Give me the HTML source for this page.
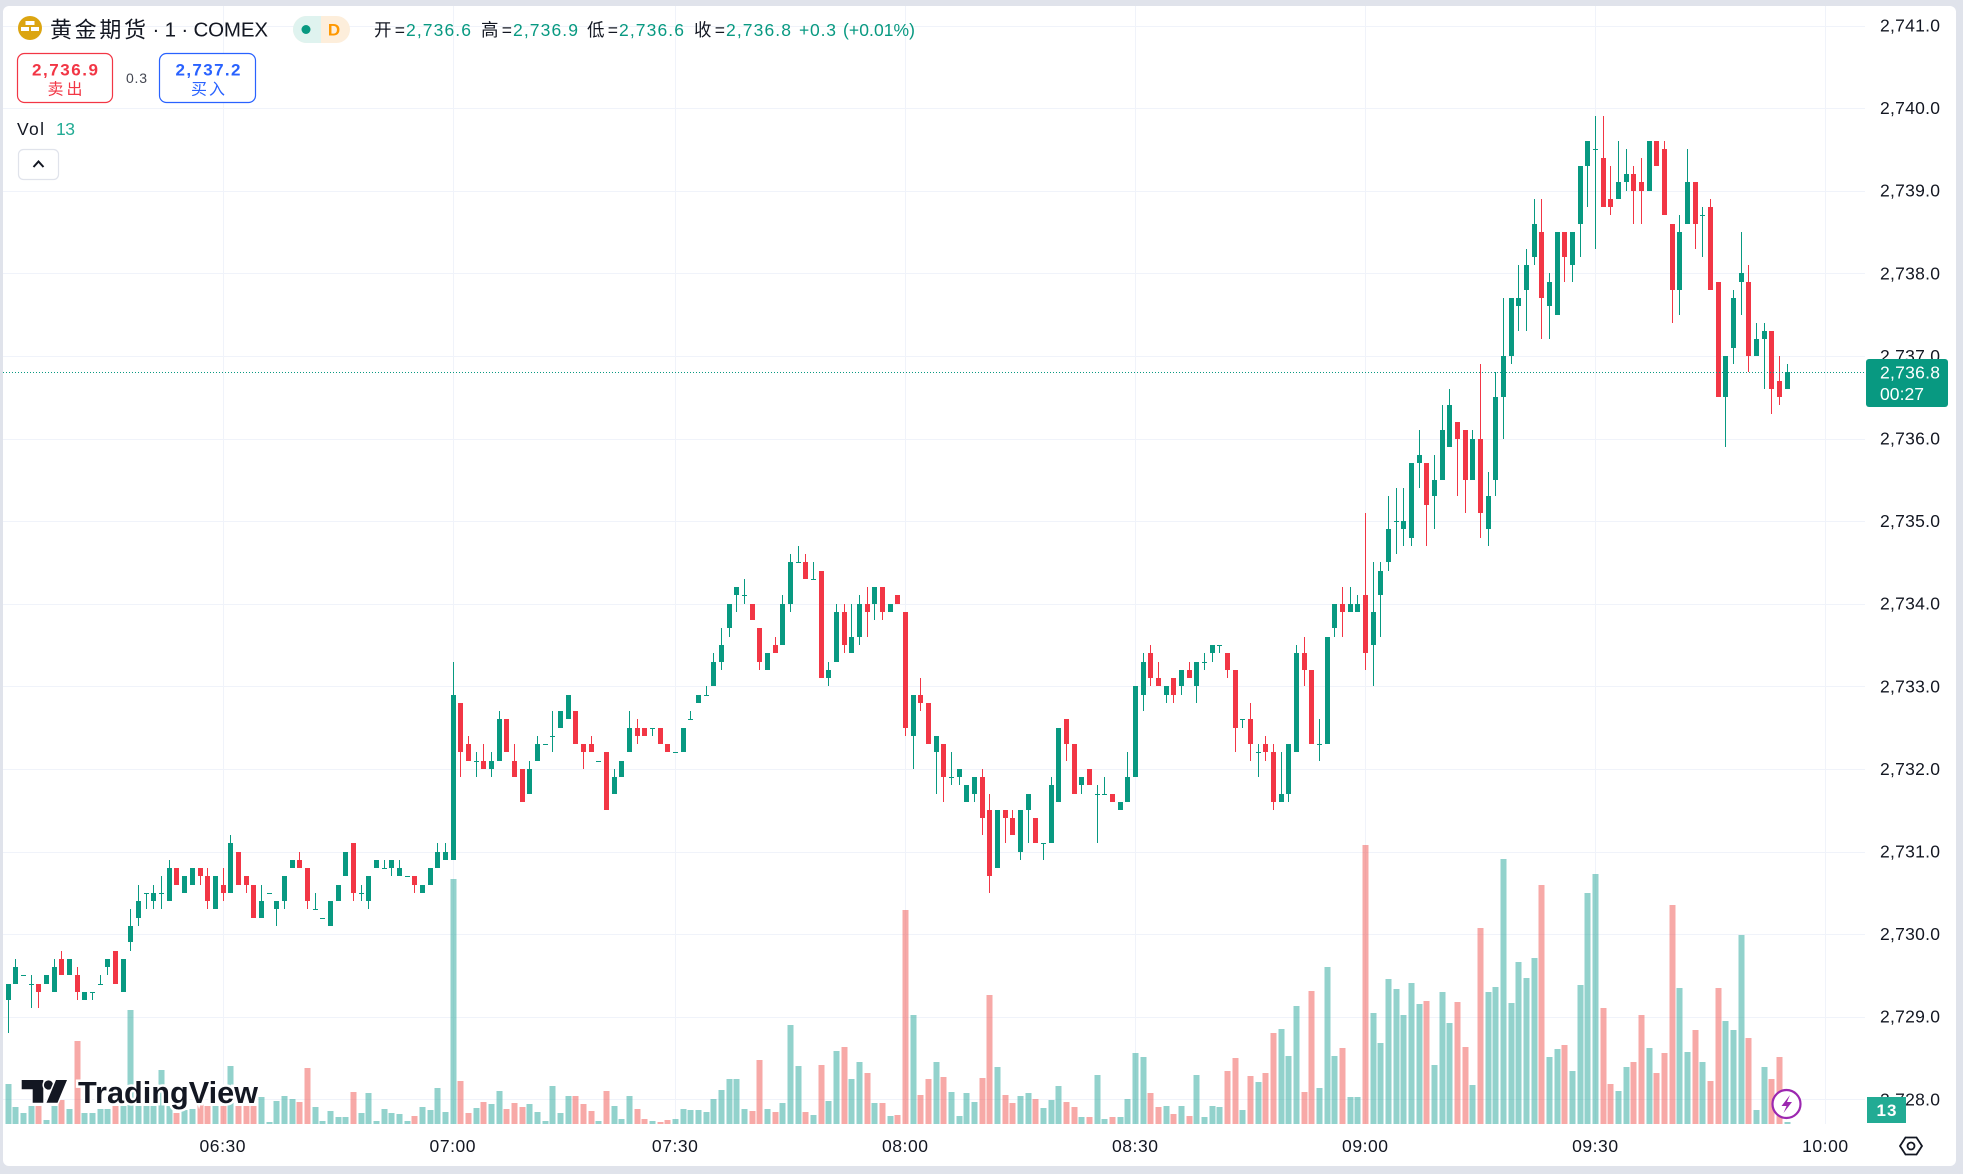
<!DOCTYPE html>
<html><head><meta charset="utf-8"><title>黄金期货 COMEX chart</title>
<style>
html,body{margin:0;padding:0;width:1963px;height:1174px;overflow:hidden;background:#e0e3eb;}
svg{position:absolute;left:0;top:0;}
text{font-family:"Liberation Sans","Noto Sans CJK SC",sans-serif;}
</style></head>
<body>
<svg id="s" width="1963" height="1174" viewBox="0 0 1963 1174" xmlns="http://www.w3.org/2000/svg">
<rect x="0" y="0" width="1963" height="1174" fill="#e0e3eb"/>
<rect x="3" y="6" width="1953" height="1160" rx="6" fill="#ffffff"/>
<g id="grid" stroke="#f0f3fa" stroke-width="1" shape-rendering="crispEdges"></g>
<g id="vol"></g>
<g id="cnd" shape-rendering="crispEdges"></g>
<line x1="3" y1="372.5" x2="1866" y2="372.5" stroke="#089981" stroke-width="1" stroke-dasharray="1 2"/>

<!-- header -->
<circle cx="30" cy="28" r="12" fill="#dca511"/>
<rect x="25.5" y="21" width="9" height="4" fill="#fff"/>
<rect x="21" y="27" width="8" height="4" fill="#fff"/>
<rect x="31" y="27" width="8" height="4" fill="#fff"/>
<text x="50" y="30" font-size="22" dominant-baseline="central" fill="#131722" textLength="96" lengthAdjust="spacing">黄金期货</text>
<text x="147" y="30" font-size="20.5" dominant-baseline="central" fill="#131722" textLength="121" lengthAdjust="spacing">&#160;·&#160;1&#160;·&#160;COMEX</text>
<rect x="293" y="16" width="57" height="27" rx="13.5" fill="#fdeedb"/>
<rect x="293" y="16" width="28" height="27" rx="13.5" fill="#dff3ef"/>
<rect x="308" y="16" width="13" height="27" fill="#dff3ef"/>
<circle cx="306" cy="29.5" r="4.5" fill="#089981"/>
<text x="334" y="30" font-size="17" font-weight="bold" text-anchor="middle" dominant-baseline="central" fill="#ff9800">D</text>

<text y="30" font-size="17.5" dominant-baseline="central">
<tspan x="374" fill="#131722" textLength="31" lengthAdjust="spacing">开=</tspan><tspan x="406" fill="#089981" textLength="65" lengthAdjust="spacing">2,736.6</tspan>
<tspan x="481" fill="#131722" textLength="31" lengthAdjust="spacing">高=</tspan><tspan x="513" fill="#089981" textLength="65" lengthAdjust="spacing">2,736.9</tspan>
<tspan x="587" fill="#131722" textLength="31" lengthAdjust="spacing">低=</tspan><tspan x="619" fill="#089981" textLength="65" lengthAdjust="spacing">2,736.6</tspan>
<tspan x="694" fill="#131722" textLength="31" lengthAdjust="spacing">收=</tspan><tspan x="726" fill="#089981" textLength="65" lengthAdjust="spacing">2,736.8</tspan>
<tspan x="799" fill="#089981" textLength="37" lengthAdjust="spacing">+0.3</tspan><tspan x="843" fill="#089981" textLength="72" lengthAdjust="spacing">(+0.01%)</tspan>
</text>

<rect x="17.5" y="53.5" width="95" height="49" rx="7" fill="#fff" stroke="#f23645" stroke-width="1.2"/>
<text x="65" y="70" font-size="17" font-weight="bold" text-anchor="middle" dominant-baseline="central" fill="#f23645" textLength="66" lengthAdjust="spacing">2,736.9</text>
<text x="65" y="90" font-size="16" text-anchor="middle" dominant-baseline="central" fill="#f23645" textLength="35" lengthAdjust="spacing">卖出</text>
<text x="136.5" y="78" font-size="14" text-anchor="middle" dominant-baseline="central" fill="#434651" textLength="21" lengthAdjust="spacing">0.3</text>
<rect x="159.5" y="53.5" width="96" height="49" rx="7" fill="#fff" stroke="#2962ff" stroke-width="1.2"/>
<text x="208" y="70" font-size="17" font-weight="bold" text-anchor="middle" dominant-baseline="central" fill="#2962ff" textLength="65" lengthAdjust="spacing">2,737.2</text>
<text x="208" y="90" font-size="16" text-anchor="middle" dominant-baseline="central" fill="#2962ff" textLength="34" lengthAdjust="spacing">买入</text>

<text x="17" y="129" font-size="17.5" dominant-baseline="central" fill="#131722" textLength="27" lengthAdjust="spacing">Vol</text>
<text x="56" y="129" font-size="17.5" dominant-baseline="central" fill="#22ab94" textLength="19" lengthAdjust="spacing">13</text>
<rect x="18.5" y="149.5" width="40" height="30" rx="5" fill="#fff" stroke="#e0e3eb" stroke-width="1.2"/>
<polyline points="33.5,167 38.5,161.5 43.5,167" fill="none" stroke="#131722" stroke-width="2"/>

<!-- TradingView logo -->
<g>
<path d="M21.7,1080 H43.3 V1102.7 H32.7 V1089.3 H21.7 Z" fill="#131722" stroke="#fff" stroke-width="3" paint-order="stroke"/>
<circle cx="48.5" cy="1085" r="4.6" fill="#131722" stroke="#fff" stroke-width="3" paint-order="stroke"/>
<path d="M56,1080 L67,1080 L57.5,1102.7 L46.5,1102.7 Z" fill="#131722" stroke="#fff" stroke-width="3" paint-order="stroke"/>
<text x="78" y="1103" font-size="31" font-weight="bold" fill="#131722" stroke="#fff" stroke-width="5" paint-order="stroke" textLength="180" lengthAdjust="spacingAndGlyphs">TradingView</text>
</g>

<!-- lightning icon -->
<circle cx="1786.5" cy="1104" r="14" fill="#fff" stroke="#9c27b0" stroke-width="2.2"/>
<path d="M1790,1095 L1781.5,1106 L1786.5,1106 L1783.5,1113 L1792,1102 L1787,1102 Z" fill="#9c27b0"/>

<g id="plabels" font-size="17.5" fill="#131722"></g>

<!-- current price label -->
<rect x="1866" y="359" width="82" height="48" rx="3" fill="#089981"/>
<text x="1880" y="372.5" font-size="17.5" dominant-baseline="central" fill="#fff" textLength="60" lengthAdjust="spacing">2,736.8</text>
<text x="1880" y="394" font-size="17.5" dominant-baseline="central" fill="#fff" textLength="44" lengthAdjust="spacing">00:27</text>

<!-- volume label -->
<rect x="1867" y="1097" width="39" height="26" fill="#22ab94"/>
<text x="1886.5" y="1110.5" font-size="17" font-weight="bold" text-anchor="middle" dominant-baseline="central" fill="#fff" textLength="20" lengthAdjust="spacing">13</text>

<g id="tlabels" font-size="17.5" fill="#131722"></g>

<!-- settings icon -->
<polygon points="1900,1146 1905.5,1137.5 1916.5,1137.5 1922,1146 1916.5,1154.5 1905.5,1154.5" fill="none" stroke="#131722" stroke-width="1.8"/>
<circle cx="1911" cy="1146" r="3.5" fill="none" stroke="#131722" stroke-width="1.8"/>
</svg>

<script>
(function(){
var NS="http://www.w3.org/2000/svg";
function el(parent,tag,attrs,txt){var e=document.createElementNS(NS,tag);for(var k in attrs)e.setAttribute(k,attrs[k]);if(txt!==undefined)e.textContent=txt;parent.appendChild(e);return e;}
function Y(p){return 25.5+(2741-p)*82.6;}
var X0=7.8,DX=7.668;
var grid=document.getElementById('grid');
var pl=document.getElementById('plabels');
for(var p=2741;p>=2728;p--){
  var y=Math.round(Y(p))+0.5;
  el(grid,'line',{x1:3,y1:y,x2:1865,y2:y});
  el(pl,'text',{x:1880,y:Y(p),'dominant-baseline':'central',textLength:60,lengthAdjust:'spacing'},(p+'').replace(/^(\d)(\d{3})$/,'$1,$2')+'.0');
}
var tl=document.getElementById('tlabels');
var times=[[28,'06:30'],[58,'07:00'],[87,'07:30'],[117,'08:00'],[147,'08:30'],[177,'09:00'],[207,'09:30'],[237,'10:00']];
times.forEach(function(t){
  var x=X0+t[0]*DX;var xr=Math.round(x)+0.5;
  el(grid,'line',{x1:xr,y1:6,x2:xr,y2:1124});
  el(tl,'text',{x:x,y:1146,'text-anchor':'middle','dominant-baseline':'central',textLength:46,lengthAdjust:'spacing'},t[1]);
});
var raw="29.2 29.4 28.8 29.4 40 29.4 29.7 29.4 29.6 17 29.5 29.5 29.5 29.5 11 29.4 29.5 29.1 29.4 18 29.4 29.4 29.1 29.3 18 29.4 29.5 29.4 29.5 4 29.3 29.7 29.3 29.6 18 29.7 29.8 29.5 29.5 24 29.5 29.7 29.5 29.7 15 29.5 29.6 29.2 29.3 83 "+
"29.2 29.3 29.2 29.3 11 29.3 29.3 29.2 29.3 11 29.4 29.5 29.4 29.4 15 29.6 29.7 29.5 29.7 15 29.8 29.8 29.4 29.4 18 29.3 29.7 29.3 29.7 18 29.9 30.3 29.8 30.1 114 30.2 30.6 30.1 30.4 18 30.5 30.5 30.3 30.5 18 30.4 30.6 30.3 30.5 18 "+
"30.5 30.7 30.3 30.5 54 30.4 30.9 30.4 30.8 18 30.8 30.8 30.6 30.6 11 30.5 30.7 30.5 30.7 14 30.6 30.8 30.6 30.8 15 30.8 30.8 30.6 30.7 21 30.7 30.8 30.3 30.4 18 30.3 30.7 30.3 30.7 18 30.6 30.8 30.4 30.5 18 30.5 31.2 30.5 31.1 58 "+
"31.0 31.0 30.6 30.6 18 30.7 30.7 30.5 30.6 18 30.6 30.6 30.2 30.2 18 30.2 30.6 30.2 30.4 27 30.5 30.5 30.5 30.5 2 30.3 30.4 30.1 30.4 23 30.4 30.7 30.3 30.7 28 30.8 30.9 30.8 30.9 25 30.9 31.0 30.8 30.8 22 30.8 30.8 30.3 30.4 56 "+
"30.3 30.5 30.3 30.3 17 30.2 30.2 30.2 30.2 3 30.1 30.4 30.1 30.4 13 30.4 30.6 30.4 30.6 7 30.7 31.0 30.7 31.0 7 31.1 31.1 30.4 30.5 32 30.5 30.6 30.4 30.5 11 30.4 30.7 30.3 30.7 31 30.8 30.9 30.8 30.9 3 30.8 30.9 30.8 30.8 15 "+
"30.8 30.9 30.7 30.9 11 30.7 30.9 30.7 30.8 10 30.7 30.7 30.7 30.7 3 30.7 30.7 30.5 30.6 8 30.5 30.6 30.5 30.6 17 30.6 30.8 30.6 30.8 14 30.8 31.1 30.8 31.0 36 30.9 31.1 30.9 31.0 12 30.9 33.3 30.9 32.9 245 32.8 32.8 31.9 32.2 43 "+
"32.3 32.4 32.1 32.1 11 32.1 32.2 31.9 32.1 16 32.1 32.3 32.0 32.0 22 32.0 32.2 31.9 32.1 20 32.1 32.7 32.1 32.6 33 32.6 32.6 32.2 32.2 15 32.1 32.3 31.9 31.9 21 32.0 32.0 31.6 31.6 17 31.7 32.1 31.7 32.0 20 32.1 32.4 32.1 32.3 12 "+
"32.3 32.3 32.3 32.3 3 32.4 32.7 32.2 32.4 38 32.5 32.7 32.5 32.7 11 32.6 32.9 32.6 32.9 28 32.7 32.7 32.3 32.3 28 32.3 32.3 32.0 32.2 20 32.3 32.4 32.2 32.2 13 32.1 32.1 32.1 32.1 3 32.2 32.2 31.5 31.5 33 31.7 32.0 31.7 31.9 18 "+
"31.9 32.1 31.9 32.1 5 32.2 32.7 32.2 32.5 28 32.5 32.6 32.3 32.4 15 32.5 32.5 32.4 32.4 5 32.5 32.5 32.4 32.5 3 32.5 32.5 32.3 32.3 2 32.3 32.3 32.2 32.2 4 32.2 32.2 32.2 32.2 5 32.2 32.5 32.2 32.5 15 32.6 32.7 32.6 32.6 14 "+
"32.8 32.9 32.8 32.9 14 32.9 33.0 32.9 32.9 12 33.0 33.4 33.0 33.3 25 33.3 33.7 33.2 33.5 34 33.7 34.0 33.6 34.0 45 34.1 34.2 33.9 34.2 45 34.1 34.3 34.0 34.1 15 34.0 34.0 33.8 33.8 13 33.7 33.7 33.2 33.3 64 33.2 33.4 33.2 33.4 15 "+
"33.5 33.6 33.4 33.4 12 33.5 34.1 33.5 34.0 21 34.0 34.6 33.9 34.5 99 34.5 34.7 34.5 34.5 58 34.5 34.6 34.3 34.3 12 34.3 34.5 34.3 34.3 9 34.4 34.4 33.1 33.1 59 33.1 33.3 33.0 33.2 23 33.3 34.0 33.3 33.9 73 33.9 34.0 33.4 33.5 77 "+
"33.4 34.0 33.4 33.6 45 33.6 34.1 33.5 34.0 62 34.0 34.2 33.6 33.9 51 34.0 34.2 33.8 34.2 21 34.2 34.2 33.8 33.9 21 33.9 34.0 33.9 34.0 8 34.1 34.1 34.0 34.0 9 33.9 33.9 32.4 32.5 214 32.4 32.9 32.0 32.9 109 32.9 33.1 32.7 32.8 29 "+
"32.8 32.8 32.3 32.3 45 32.2 32.4 31.7 32.4 62 32.3 32.3 31.6 31.9 47 31.9 32.2 31.8 31.9 32 31.9 32.0 31.8 32.0 8 31.6 31.8 31.6 31.8 31 31.7 31.9 31.6 31.9 22 31.9 32.0 31.2 31.4 46 31.5 31.7 30.5 30.7 129 30.8 31.5 30.8 31.5 57 "+
"31.5 31.5 31.1 31.4 29 31.4 31.5 31.2 31.2 21 31.0 31.5 30.9 31.5 28 31.5 31.7 31.1 31.7 31 31.4 31.4 31.1 31.1 25 31.1 31.1 30.9 31.1 16 31.1 31.9 31.1 31.8 24 31.6 32.5 31.6 32.5 38 32.6 32.6 32.1 32.3 22 32.3 32.3 31.7 31.7 17 "+
"31.8 31.9 31.7 31.9 7 32.0 32.0 31.8 31.8 7 31.7 31.8 31.1 31.7 49 31.7 31.9 31.7 31.7 5 31.7 31.7 31.6 31.6 7 31.5 31.6 31.5 31.6 7 31.6 32.2 31.6 31.9 25 31.9 33.0 31.9 33.0 71 32.9 33.4 32.7 33.3 67 33.4 33.5 33.0 33.1 31 "+
"33.1 33.3 33.0 33.0 17 32.9 33.0 32.8 33.0 18 33.1 33.1 32.8 32.9 10 33.0 33.2 32.9 33.2 18 33.2 33.3 33.1 33.1 8 33.0 33.3 32.8 33.3 49 33.3 33.4 33.2 33.3 7 33.4 33.5 33.3 33.5 18 33.5 33.5 33.4 33.5 17 33.4 33.4 33.1 33.2 53 "+
"33.2 33.2 32.2 32.5 66 32.6 32.6 32.5 32.6 14 32.6 32.8 32.1 32.3 48 32.2 32.3 31.9 32.2 42 32.3 32.4 32.1 32.2 51 32.2 32.3 31.5 31.6 91 31.6 32.2 31.6 31.7 95 31.7 32.3 31.6 32.3 68 32.2 33.5 32.2 33.4 118 33.4 33.6 33.0 33.2 32 "+
"33.2 33.2 32.3 32.3 133 32.3 32.6 32.1 32.3 36 32.3 33.6 32.3 33.6 157 33.7 34.0 33.6 34.0 68 34.0 34.2 33.6 33.9 76 33.9 34.2 33.9 34.0 27 33.9 34.1 33.9 34.0 27 34.1 35.1 33.2 33.4 279 33.5 34.5 33.0 33.9 111 34.1 34.5 33.6 34.4 81 "+
"34.5 35.3 34.4 34.9 145 35.0 35.4 34.6 35.0 135 34.9 35.4 34.7 35.0 109 34.8 35.7 34.7 35.7 141 35.7 36.1 35.4 35.8 120 35.7 35.7 34.7 35.2 123 35.3 35.8 34.9 35.5 59 35.5 36.4 35.5 36.1 132 35.9 36.6 35.9 36.4 101 36.2 36.2 35.3 36.0 122 "+
"36.1 36.1 35.1 35.5 77 35.5 36.1 35.5 36.0 39 36.0 36.9 34.8 35.1 196 34.9 35.6 34.7 35.3 132 35.5 36.8 35.3 36.5 137 36.5 37.7 36.0 37.0 265 37.0 37.7 36.9 37.7 121 37.6 38.1 37.3 37.7 162 37.8 38.3 37.3 38.1 146 38.2 38.9 38.1 38.6 166 "+
"38.5 38.9 37.2 37.7 239 37.6 38.0 37.2 37.9 67 37.5 38.5 37.5 38.5 75 38.5 38.5 37.9 38.2 79 38.1 38.5 37.9 38.5 53 38.6 39.3 38.2 39.3 139 39.3 39.6 38.8 39.6 231 39.5 39.9 38.3 39.5 250 39.4 39.9 38.8 38.8 116 38.9 39.3 38.7 38.8 40 "+
"38.9 39.6 38.9 39.1 33 39.1 39.5 39.0 39.2 57 39.2 39.3 38.6 39.0 62 39.1 39.4 38.6 39.0 109 39.0 39.6 39.0 39.6 76 39.6 39.6 39.3 39.3 51 39.5 39.6 38.7 38.7 71 38.6 38.6 37.4 37.8 219 37.8 38.7 37.5 38.5 136 38.6 39.5 38.6 39.1 72 "+
"39.1 39.1 38.3 38.6 94 38.7 38.8 38.2 38.7 62 38.8 38.9 37.8 37.8 43 37.9 37.9 36.5 36.5 136 36.5 37.0 35.9 37.0 103 37.1 37.8 36.9 37.7 94 37.9 38.5 37.5 38.0 189 37.9 38.1 36.8 37.0 86 37.0 37.4 37.0 37.2 14 37.2 37.4 36.6 37.3 57 "+
"37.3 37.3 36.3 36.6 45 36.7 37.0 36.4 36.5 67 36.6 36.9 36.6 36.8 2";
var a=raw.trim().split(/\s+/).map(Number);
var vg=document.getElementById('vol'),cg=document.getElementById('cnd');
var n=Math.floor(a.length/5);
for(var i=0;i<n;i++){
  var o=2700+a[i*5],h=2700+a[i*5+1],l=2700+a[i*5+2],c=2700+a[i*5+3],v=a[i*5+4];
  var cx=X0+i*DX,r=Math.round(cx);
  var up=c>=o;
  var col=up?'#089981':'#f23645';
  var vcol=up?'rgba(38,166,154,0.5)':'rgba(239,83,80,0.5)';
  el(vg,'rect',{x:r-2.5,y:1124-v,width:6,height:v,fill:vcol});
  var yh=Math.round(Y(h)),yl=Math.round(Y(l));
  el(cg,'rect',{x:r,y:yh,width:1,height:Math.max(1,yl-yh),fill:col});
  var yt=Math.round(Y(Math.max(o,c))),yb=Math.round(Y(Math.min(o,c)));
  el(cg,'rect',{x:r-2,y:yt,width:5,height:Math.max(1,yb-yt),fill:col});
}
})();
</script>
</body></html>
